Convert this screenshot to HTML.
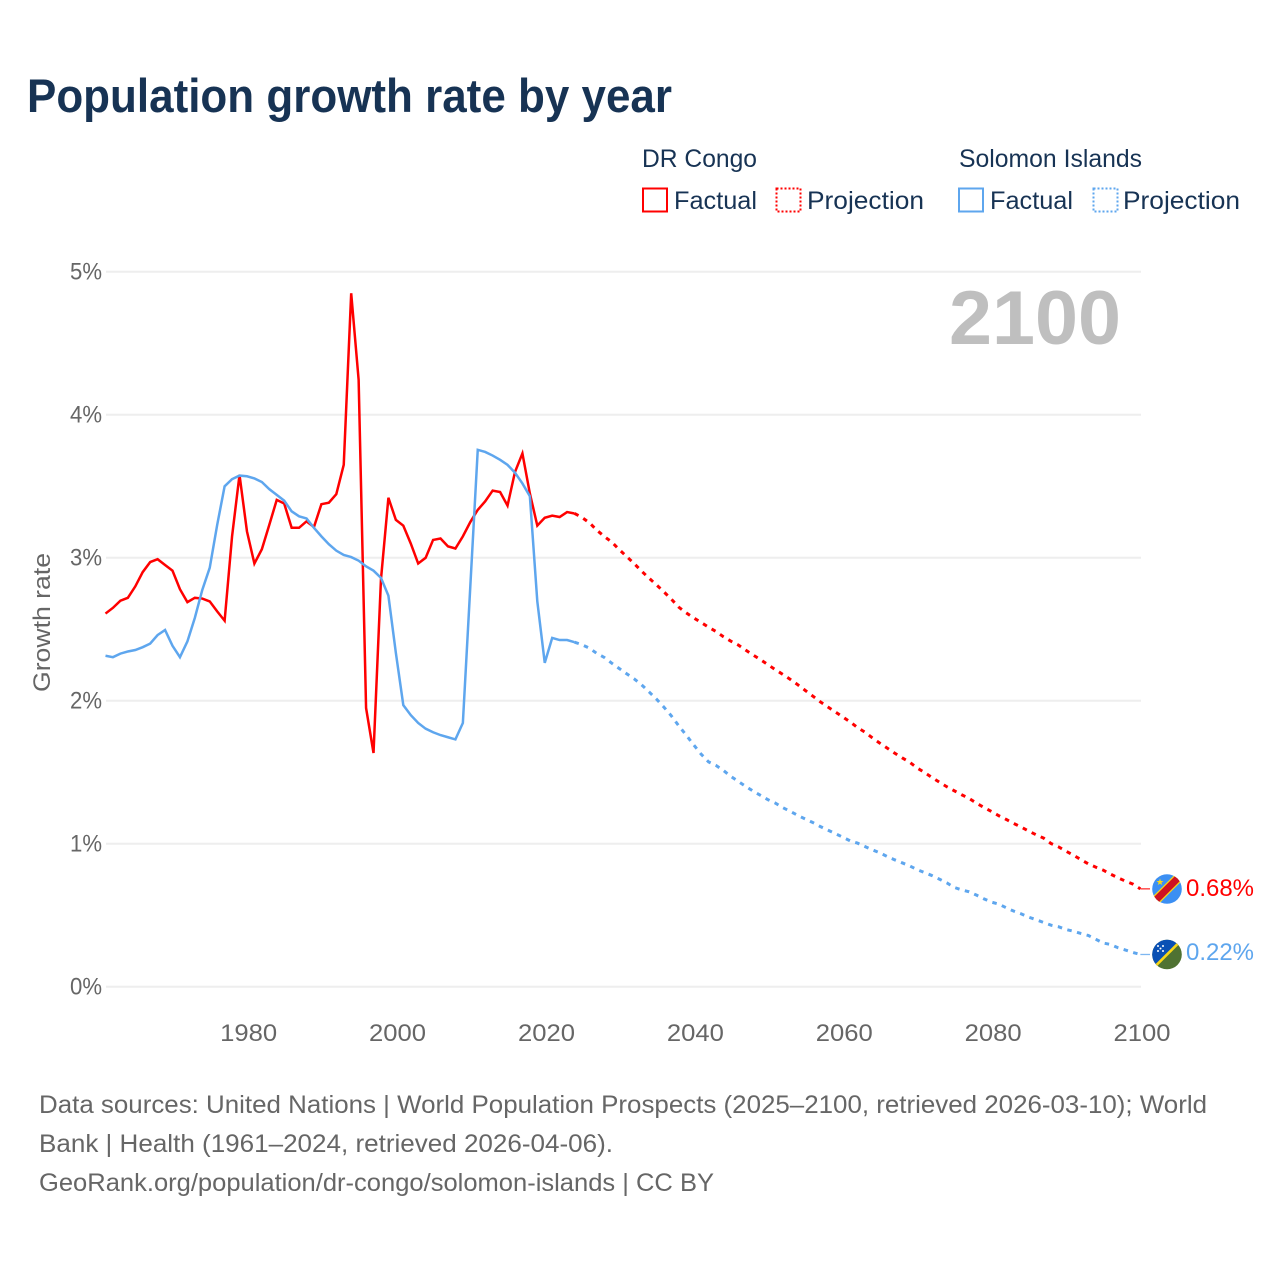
<!DOCTYPE html>
<html lang="en">
<head>
<meta charset="utf-8">
<title>Population growth rate by year</title>
<style>
html,body{margin:0;padding:0;background:#fff;}
svg{display:block;font-family:"Liberation Sans",sans-serif;}
</style>
</head>
<body>
<svg id="chart" xmlns="http://www.w3.org/2000/svg" width="1280" height="1280" viewBox="0 0 1280 1280">
  <rect x="0" y="0" width="1280" height="1280" fill="#ffffff"/>
  <text x="27" y="112" font-size="47" font-weight="700" fill="#173354" textLength="645" lengthAdjust="spacingAndGlyphs">Population growth rate by year</text>

  <g font-size="25" fill="#173354">
    <text x="642" y="167" textLength="115" lengthAdjust="spacingAndGlyphs">DR Congo</text>
    <text x="959" y="167" textLength="183" lengthAdjust="spacingAndGlyphs">Solomon Islands</text>
    <rect x="643" y="188.500" width="24" height="23" fill="none" stroke="#ff0000" stroke-width="2"/>
    <text x="674" y="209" textLength="83" lengthAdjust="spacingAndGlyphs">Factual</text>
    <rect x="776.500" y="188.500" width="24" height="23" fill="none" stroke="#ff0000" stroke-width="2" stroke-dasharray="2 2"/>
    <text x="807" y="209" textLength="117" lengthAdjust="spacingAndGlyphs">Projection</text>
    <rect x="959" y="188.500" width="24" height="23" fill="none" stroke="#5ea6ee" stroke-width="2"/>
    <text x="990" y="209" textLength="83" lengthAdjust="spacingAndGlyphs">Factual</text>
    <rect x="1093.500" y="188.500" width="24" height="23" fill="none" stroke="#5ea6ee" stroke-width="2" stroke-dasharray="2 2"/>
    <text x="1123" y="209" textLength="117" lengthAdjust="spacingAndGlyphs">Projection</text>
  </g>

  <g id="grid"></g>
  <g id="yticks" font-size="24" fill="#666666"></g>
  <g id="xticks" font-size="24" fill="#666666"></g>
  <text transform="translate(50,692) rotate(-90)" font-size="24" fill="#666666" textLength="139" lengthAdjust="spacingAndGlyphs">Growth rate</text>

  <text x="949" y="344" font-size="76" font-weight="700" fill="#bfbfbf" textLength="172" lengthAdjust="spacingAndGlyphs">2100</text>

  <g id="series"></g>

  <defs>
    <clipPath id="clip-cd"><circle cx="1167" cy="889" r="14.800"/></clipPath>
    <clipPath id="clip-sb"><circle cx="1167" cy="954.500" r="14.800"/></clipPath>
  </defs>
  <g clip-path="url(#clip-cd)">
    <rect x="1150" y="872" width="34" height="34" fill="#3b8ff3"/>
    <line x1="1152" y1="904" x2="1182" y2="874" stroke="#f7d618" stroke-width="9.500"/>
    <line x1="1152" y1="904" x2="1182" y2="874" stroke="#ce1021" stroke-width="7"/>
    <polygon points="1160,878.500 1160.900,881 1163.500,881 1161.400,882.600 1162.200,885 1160,883.600 1157.800,885 1158.600,882.600 1156.500,881 1159.100,881" fill="#f7d618"/>
  </g>
  <g clip-path="url(#clip-sb)">
    <rect x="1150" y="938" width="34" height="34" fill="#4f7232"/>
    <polygon points="1150,938 1184,938 1150,972" fill="#0a50b4"/>
    <line x1="1150" y1="971.500" x2="1184" y2="937.500" stroke="#f7d618" stroke-width="2.600"/>
    <g fill="#ffffff">
      <circle cx="1158" cy="946" r="1"/><circle cx="1163" cy="946" r="1"/>
      <circle cx="1160.500" cy="948.500" r="1"/>
      <circle cx="1158" cy="951" r="1"/><circle cx="1163" cy="951" r="1"/>
    </g>
  </g>

  <text x="1186" y="896" font-size="24" fill="#ff0000" textLength="68" lengthAdjust="spacingAndGlyphs">0.68%</text>
  <text x="1186" y="960" font-size="24" fill="#5ea6ee" textLength="68" lengthAdjust="spacingAndGlyphs">0.22%</text>

  <g font-size="25" fill="#666666">
    <text x="39" y="1113" textLength="1168" lengthAdjust="spacingAndGlyphs">Data sources: United Nations | World Population Prospects (2025–2100, retrieved 2026-03-10); World</text>
    <text x="39" y="1152" textLength="574" lengthAdjust="spacingAndGlyphs">Bank | Health (1961–2024, retrieved 2026-04-06).</text>
    <text x="39" y="1191" textLength="675" lengthAdjust="spacingAndGlyphs">GeoRank.org/population/dr-congo/solomon-islands | CC BY</text>
  </g>
</svg>
<script>
// Chart data (percent per year)
const factualStartYear = 1961;
const projectionStartYear = 2024;
const xTickYears = [1980, 2000, 2020, 2040, 2060, 2080, 2100];
const yTickValues = [0, 1, 2, 3, 4, 5];
const yTickLabels = ['0%', '1%', '2%', '3%', '4%', '5%'];

const drCongoFactual = [2.61,2.65,2.70,2.72,2.80,2.90,2.97,2.99,2.95,2.91,2.78,2.69,2.72,2.715,2.695,2.625,2.56,3.15,3.58,3.185,2.96,3.06,3.23,3.405,3.38,3.21,3.21,3.255,3.215,3.375,3.385,3.445,3.65,4.85,4.245,1.95,1.635,2.85,3.42,3.265,3.225,3.10,2.96,3.0,3.125,3.135,3.08,3.065,3.15,3.25,3.335,3.395,3.47,3.46,3.365,3.60,3.73,3.45,3.225,3.28,3.295,3.285,3.32,3.31];

const solomonFactual = [2.315,2.305,2.33,2.345,2.355,2.375,2.40,2.46,2.495,2.385,2.305,2.415,2.58,2.775,2.93,3.23,3.50,3.55,3.575,3.57,3.555,3.53,3.48,3.44,3.40,3.325,3.29,3.275,3.21,3.15,3.095,3.05,3.02,3.005,2.98,2.94,2.91,2.86,2.735,2.335,1.97,1.90,1.845,1.805,1.78,1.76,1.745,1.73,1.845,2.80,3.755,3.74,3.715,3.685,3.65,3.595,3.52,3.43,2.695,2.265,2.44,2.425,2.425,2.41];

const drCongoProjection = [3.31,3.282,3.245,3.193,3.149,3.11,3.058,3.009,2.96,2.907,2.858,2.811,2.762,2.711,2.655,2.615,2.58,2.548,2.515,2.485,2.448,2.417,2.39,2.354,2.32,2.287,2.252,2.217,2.184,2.149,2.112,2.072,2.033,1.993,1.958,1.923,1.888,1.853,1.813,1.781,1.741,1.704,1.669,1.634,1.601,1.571,1.531,1.499,1.464,1.431,1.399,1.371,1.343,1.317,1.284,1.254,1.226,1.196,1.170,1.142,1.117,1.089,1.063,1.040,1.002,0.979,0.949,0.921,0.89,0.86,0.837,0.816,0.788,0.762,0.739,0.718,0.685];

const solomonProjection = [2.41,2.392,2.368,2.331,2.303,2.263,2.226,2.189,2.154,2.112,2.063,2.012,1.956,1.895,1.825,1.76,1.692,1.627,1.573,1.548,1.513,1.471,1.436,1.401,1.368,1.338,1.308,1.284,1.252,1.226,1.198,1.173,1.149,1.121,1.096,1.072,1.047,1.021,1.005,0.981,0.958,0.937,0.911,0.888,0.867,0.846,0.82,0.799,0.778,0.753,0.727,0.695,0.678,0.664,0.641,0.615,0.592,0.578,0.552,0.529,0.51,0.487,0.469,0.45,0.431,0.42,0.401,0.389,0.373,0.359,0.333,0.306,0.296,0.273,0.257,0.24,0.226];

const NS = 'http://www.w3.org/2000/svg';
const RED = '#ff0000';
const BLUE = '#5ea6ee';

function xScale(year) { return 105.5 + (year - 1961) * 7.445; }
function yScale(value) { return 986.8 - value * 143; }

function linePath(startYear, values) {
  return values.map(function (v, i) {
    return (i ? 'L' : 'M') + xScale(startYear + i).toFixed(2) + ' ' + yScale(v).toFixed(2);
  }).join(' ');
}

const gridGroup = document.getElementById('grid');
const yGroup = document.getElementById('yticks');
const xGroup = document.getElementById('xticks');
const seriesGroup = document.getElementById('series');

yTickValues.forEach(function (v, i) {
  const gridline = document.createElementNS(NS, 'line');
  
  
  gridline.setAttribute('x1', 106);
  gridline.setAttribute('x2', 1141);
  gridline.setAttribute('y1', yScale(v));
  gridline.setAttribute('y2', yScale(v));
  gridline.setAttribute('stroke', '#eeeeee');
  gridline.setAttribute('stroke-width', 2);
  gridGroup.appendChild(gridline);

  const label = document.createElementNS(NS, 'text');
  
  
  label.setAttribute('x', 70);
  label.setAttribute('y', yScale(v) + 7.5);
  label.setAttribute('textLength', 32);
  label.setAttribute('lengthAdjust', 'spacingAndGlyphs');
  label.textContent = yTickLabels[i];
  yGroup.appendChild(label);
});

xTickYears.forEach(function (year) {
  const label = document.createElementNS(NS, 'text');
  
  
  label.setAttribute('x', xScale(year) + 1.7 - 28.5);
  label.setAttribute('y', 1041);
  label.setAttribute('textLength', 57);
  label.setAttribute('lengthAdjust', 'spacingAndGlyphs');
  label.textContent = String(year);
  xGroup.appendChild(label);
});

function addSeries(name, startYear, values, color, dashed) {
  const path = document.createElementNS(NS, 'path');
  
  
  path.setAttribute('d', linePath(startYear, values));
  path.setAttribute('fill', 'none');
  path.setAttribute('stroke', color);
  path.setAttribute('stroke-width', dashed ? 3 : 2.5);
  path.setAttribute('stroke-linejoin', 'miter');
  if (dashed) path.setAttribute('stroke-dasharray', '4.5 5.5');
  seriesGroup.appendChild(path);
}

function addLeader(name, value, color) {
  const leader = document.createElementNS(NS, 'line');
  
  
  leader.setAttribute('x1', xScale(2100));
  leader.setAttribute('x2', 1150);
  leader.setAttribute('y1', yScale(value));
  leader.setAttribute('y2', yScale(value));
  leader.setAttribute('stroke', color);
  leader.setAttribute('stroke-width', 1.300);
  leader.setAttribute('opacity', 0.8);
  seriesGroup.appendChild(leader);
}

addSeries('line-dr-congo-factual', factualStartYear, drCongoFactual, RED, false);
addSeries('line-dr-congo-projection', projectionStartYear, drCongoProjection, RED, true);
addSeries('line-solomon-factual', factualStartYear, solomonFactual, BLUE, false);
addSeries('line-solomon-projection', projectionStartYear, solomonProjection, BLUE, true);
addLeader('leader-dr-congo', drCongoProjection[drCongoProjection.length - 1], RED);
addLeader('leader-solomon-islands', solomonProjection[solomonProjection.length - 1], BLUE);
</script>
</body>
</html>
